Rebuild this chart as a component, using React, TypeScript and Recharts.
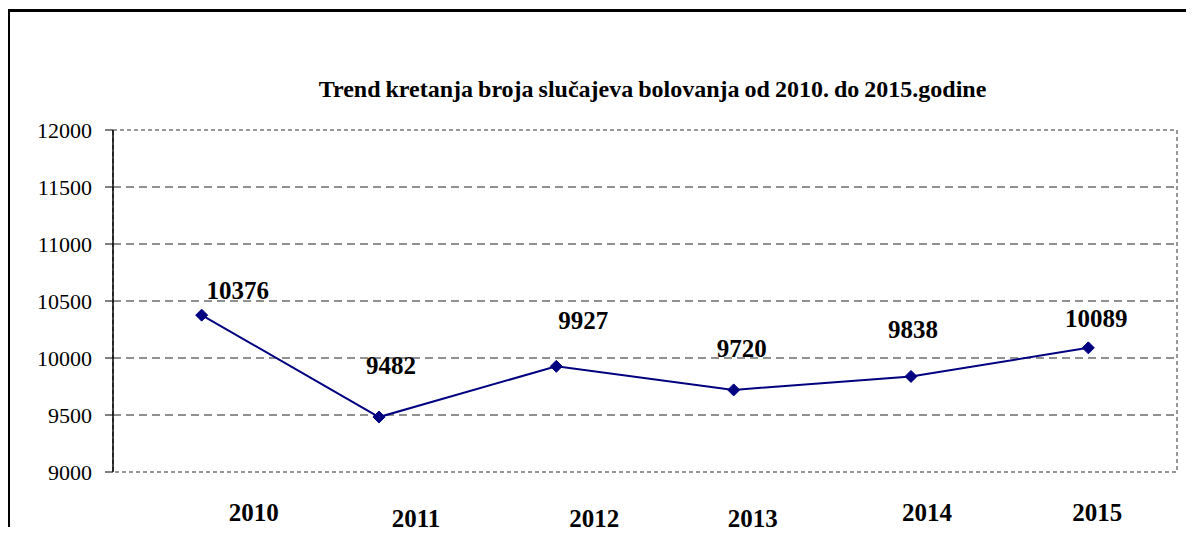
import React from 'react';
import {
  LineChart,
  Line,
  XAxis,
  YAxis,
  CartesianGrid,
  ReferenceArea,
  LabelList,
} from 'recharts';

// Broj slučajeva bolovanja po godinama
const years = ['2010', '2011', '2012', '2013', '2014', '2015'];
const cases = [10376, 9482, 9927, 9720, 9838, 10089];
const yTicks = [9000, 9500, 10000, 10500, 11000, 11500, 12000];

const data = years.map((year, i) => ({ year, cases: cases[i] }));

// label placement (manually moved in the original), relative to each point
const labelShift = [
  [36, -16],
  [12, -43],
  [27, -37],
  [8, -33],
  [2, -38],
  [8, -21],
];
// category labels are shifted and staggered too
const tickShift = [
  [52, 49],
  [37, 55],
  [38, 55],
  [19, 55],
  [16, 49],
  [9, 49],
];

const FONT = 'Liberation Serif, Tinos, DejaVu Serif, serif';
const NAVY = '#000080';

function Diamond(props: any) {
  const { cx, cy } = props;
  if (cx == null || cy == null) return null;
  const s = 6;
  return (
    <polygon
      points={`${cx},${cy - s} ${cx + s},${cy} ${cx},${cy + s} ${cx - s},${cy}`}
      fill={NAVY}
      stroke={NAVY}
    />
  );
}

function ValueLabel(props: any) {
  const { x, y, value, index } = props;
  const [dx, dy] = labelShift[index] || [0, -20];
  return (
    <text
      x={x + dx}
      y={y + dy}
      textAnchor="middle"
      style={{ fontFamily: FONT, fontWeight: 'bold', fontSize: 25 }}
      fill="#000"
    >
      {value}
    </text>
  );
}

function YearTick(props: any) {
  const { x, y, payload, index } = props;
  const [dx, dy] = tickShift[index] || [0, 50];
  return (
    <text
      x={x + dx}
      y={y + dy}
      textAnchor="middle"
      style={{ fontFamily: FONT, fontWeight: 'bold', fontSize: 25 }}
      fill="#000"
    >
      {payload.value}
    </text>
  );
}

export default function App() {
  return (
    <div
      style={{
        position: 'relative',
        margin: -8,
        width: 1194,
        height: 535,
        overflow: 'hidden',
        background: '#fff',
        fontFamily: FONT,
      }}
    >
      <div
        style={{
          position: 'absolute',
          left: 7,
          top: 9,
          width: 1300,
          height: 700,
          borderTop: '3px solid #000',
          borderLeft: '3px solid #000',
        }}
      />
      <div
        style={{
          position: 'absolute',
          left: 0,
          width: 1305,
          top: 75,
          textAlign: 'center',
          fontFamily: FONT,
          fontWeight: 'bold',
          fontSize: 24,
          lineHeight: '28px',
          color: '#000',
          wordSpacing: -1,
        }}
      >
        Trend kretanja broja slučajeva bolovanja od 2010. do 2015.godine
      </div>
      <LineChart
        width={1194}
        height={535}
        data={data}
        margin={{ top: 130, right: 17, left: 53, bottom: 23 }}
        style={{ position: 'absolute', left: 0, top: 0 }}
      >
        <CartesianGrid
          vertical={false}
          horizontalValues={[9500, 10000, 10500, 11000, 11500]}
          stroke="#222"
          strokeDasharray="8 5"
        />
        <ReferenceArea
          y1={9000}
          y2={12000}
          fill="none"
          stroke="#777"
          strokeDasharray="4 3"
          strokeWidth={1.5}
        />
        <XAxis
          dataKey="year"
          scale="band"
          axisLine={false}
          tickLine={false}
          tickSize={0}
          tickMargin={0}
          height={40}
          interval={0}
          tick={<YearTick />}
        />
        <YAxis
          width={60}
          domain={[9000, 12000]}
          ticks={yTicks}
          interval={0}
          axisLine={{ stroke: '#000', strokeWidth: 1.5 }}
          tickLine={{ stroke: '#000' }}
          tickSize={8}
          tickMargin={13}
          tick={{ fontFamily: FONT, fontSize: 22, fill: '#000' }}
        />
        <Line
          type="linear"
          dataKey="cases"
          stroke={NAVY}
          strokeWidth={2}
          dot={(p: any) => <Diamond key={p.index} {...p} />}
          activeDot={false}
          isAnimationActive={false}
        >
          <LabelList dataKey="cases" content={<ValueLabel />} />
        </Line>
      </LineChart>
    </div>
  );
}
